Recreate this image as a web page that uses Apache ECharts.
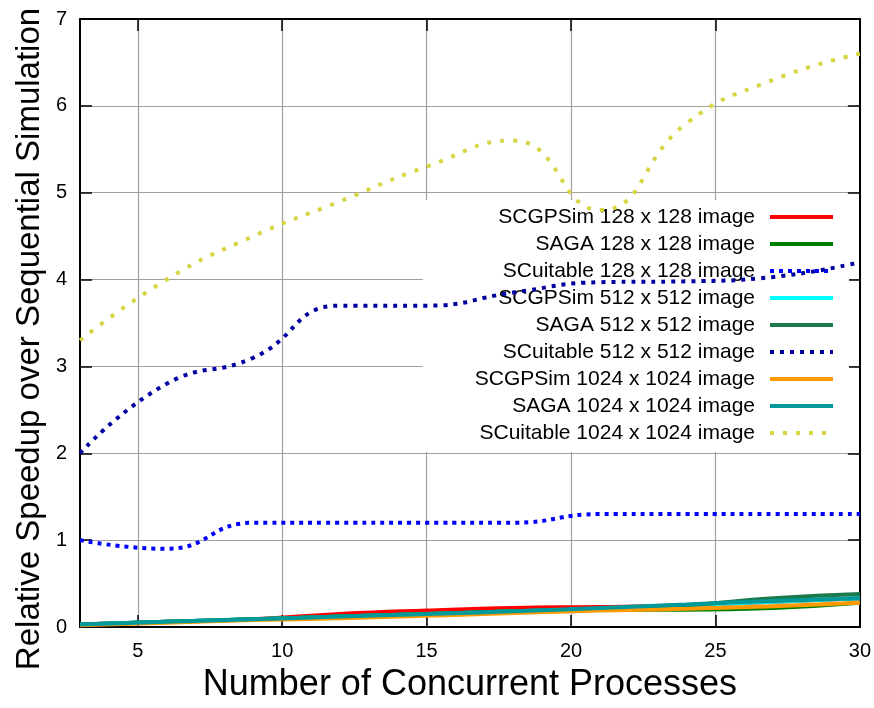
<!DOCTYPE html>
<html>
<head>
<meta charset="utf-8">
<script src="https://cdn.jsdelivr.net/npm/echarts@6/dist/echarts.min.js"></script>
<style>
  html, body { margin: 0; padding: 0; background: #fff; }
  #chart { width: 874px; height: 708px; }
</style>
</head>
<body>
<div id="chart"></div>
<script>
// number of concurrent processes
const processes = [3, 6, 9, 12, 15, 18, 21, 24, 27, 30]
const xTicks = [5, 10, 15, 20, 25, 30]

const scgpsim128 = [0.03, 0.06, 0.09, 0.15, 0.19, 0.22, 0.23, 0.25, 0.29, 0.33]
const saga128 = [0.03, 0.06, 0.09, 0.12, 0.15, 0.18, 0.20, 0.20, 0.22, 0.28]
const scuitable128 = [1.0, 0.9, 1.2, 1.2, 1.2, 1.2, 1.3, 1.3, 1.3, 1.3]
const scgpsim512 = [0.03, 0.06, 0.09, 0.12, 0.15, 0.18, 0.21, 0.25, 0.29, 0.33]
const saga512 = [0.03, 0.06, 0.09, 0.12, 0.15, 0.18, 0.21, 0.25, 0.33, 0.38]
const scuitable512 = [2.0, 2.8, 3.1, 3.7, 3.7, 3.85, 3.97, 3.98, 4.03, 4.2]
const scgpsim1024 = [0.02, 0.05, 0.08, 0.10, 0.13, 0.16, 0.19, 0.21, 0.24, 0.28]
const saga1024 = [0.03, 0.06, 0.09, 0.12, 0.15, 0.18, 0.22, 0.26, 0.30, 0.33]
const scuitable1024 = [3.3, 4.0, 4.5, 4.9, 5.3, 5.6, 4.8, 5.8, 6.3, 6.6]

const FONT = '"Liberation Sans", Arial, sans-serif'

const pairs = (ys) => processes.map((x, i) => [x, ys[i]])

const makeLine = (name, ys, color, type) => ({
  name,
  type: 'line',
  data: pairs(ys),
  smooth: 0.5,
  symbol: 'none',
  z: 3,
  lineStyle: { color, width: 4, type },
  itemStyle: { color },
})

const series = [
  makeLine('SCGPSim 128 x 128 image', scgpsim128, '#ff0000', 'solid'),
  makeLine('SAGA 128 x 128 image', saga128, '#008000', 'solid'),
  makeLine('SCuitable 128 x 128 image', scuitable128, '#0000ff', [4, 5]),
  makeLine('SCGPSim 512 x 512 image', scgpsim512, '#00ffff', 'solid'),
  makeLine('SAGA 512 x 512 image', saga512, '#1b7a4c', 'solid'),
  makeLine('SCuitable 512 x 512 image', scuitable512, '#0000a0', [4, 6]),
  makeLine('SCGPSim 1024 x 1024 image', scgpsim1024, '#ff9900', 'solid'),
  makeLine('SAGA 1024 x 1024 image', saga1024, '#009a9a', 'solid'),
  makeLine('SCuitable 1024 x 1024 image', scuitable1024, '#d6d645', [4, 9]),
]

const chart = echarts.init(document.getElementById('chart'))

const tickStyle = { show: true, inside: true, length: 12, lineStyle: { color: '#000', width: 1.5 } }
const gridLine = { show: true, lineStyle: { color: '#a0a0a0', width: 1.2 } }

chart.setOption({
  animation: false,
  backgroundColor: '#fff',
  textStyle: { fontFamily: FONT },
  grid: { left: 80, right: 14, top: 19, bottom: 80 },
  legend: {
    orient: 'vertical',
    align: 'right',
    right: 25,
    top: 200,
    z: 1,
    backgroundColor: '#fff',
    padding: [6, 14, 8, 52],
    itemWidth: 63,
    itemHeight: 14,
    itemGap: 5,
    selectedMode: false,
    itemStyle: { opacity: 0 },
    lineStyle: { width: 4 },
    textStyle: { fontSize: 21, color: '#000', lineHeight: 22, padding: [0, 10, 0, 0] },
  },
  xAxis: [
    {
      type: 'value',
      min: 3,
      max: 30,
      name: 'Number of Concurrent Processes',
      nameLocation: 'middle',
      nameGap: 40,
      nameTextStyle: { fontSize: 36, color: '#000' },
      axisLine: { show: true, onZero: false, lineStyle: { color: '#000', width: 2 } },
      axisTick: { ...tickStyle, customValues: xTicks },
      axisLabel: { fontSize: 20, color: '#000', margin: 14, customValues: xTicks },
      splitLine: gridLine,
    },
    {
      type: 'value',
      position: 'top',
      min: 3,
      max: 30,
      axisLine: { show: true, onZero: false, lineStyle: { color: '#000', width: 2 } },
      axisTick: { ...tickStyle, customValues: xTicks },
      axisLabel: { show: false, customValues: xTicks },
      splitLine: { show: false },
    },
  ],
  yAxis: [
    {
      type: 'value',
      min: 0,
      max: 7,
      interval: 1,
      axisLine: { show: true, onZero: false, lineStyle: { color: '#000', width: 2 } },
      axisTick: tickStyle,
      axisLabel: { fontSize: 20, color: '#000', margin: 13 },
      splitLine: gridLine,
    },
    {
      type: 'value',
      position: 'right',
      min: 0,
      max: 7,
      interval: 1,
      axisLine: { show: true, onZero: false, lineStyle: { color: '#000', width: 2 } },
      axisTick: tickStyle,
      axisLabel: { show: false },
      splitLine: { show: false },
    },
  ],
  graphic: [
    {
      type: 'text',
      x: 30,
      y: 339,
      rotation: Math.PI / 2,
      style: {
        text: 'Relative Speedup over Sequential Simulation',
        font: '33px ' + FONT,
        fill: '#000',
        align: 'center',
        verticalAlign: 'middle',
      },
    },
  ],
  series,
})
</script>
</body>
</html>
